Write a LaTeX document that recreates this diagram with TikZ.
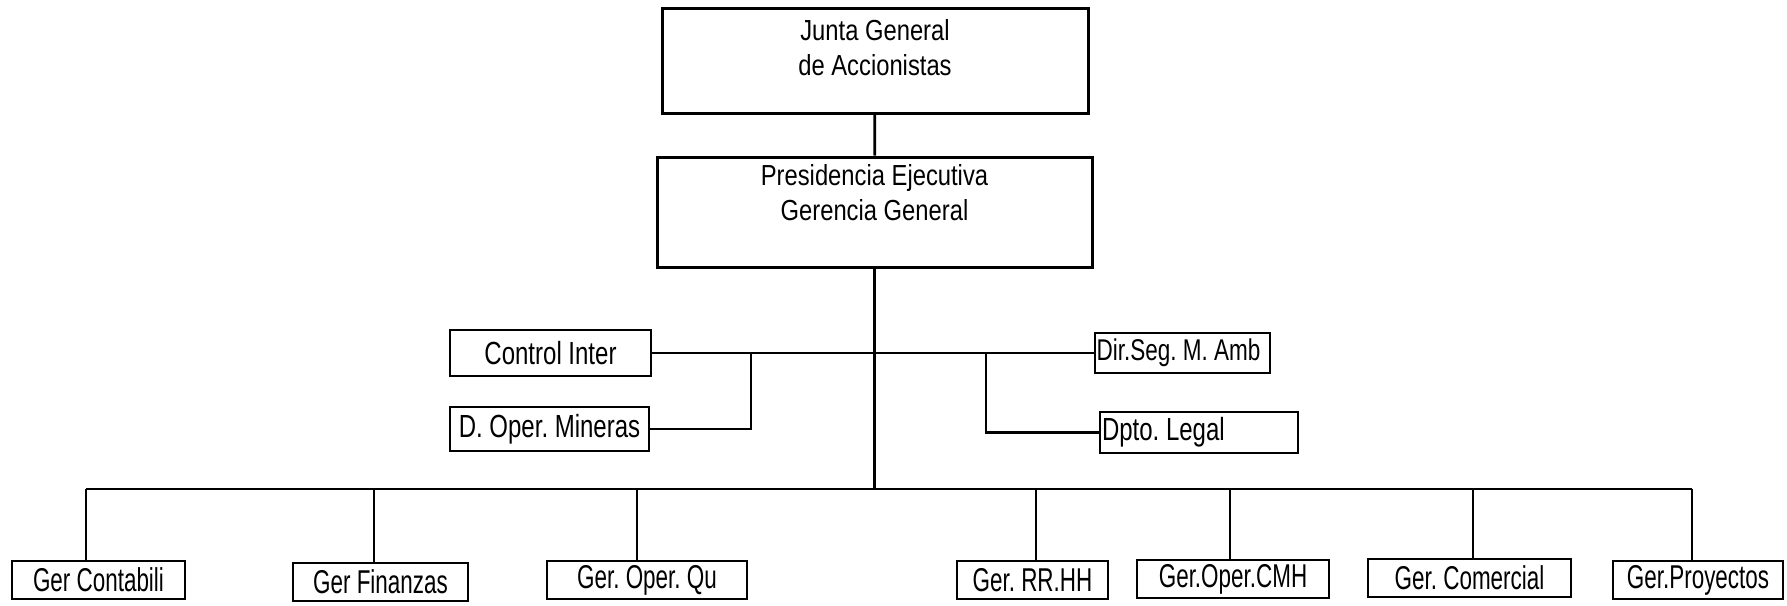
\documentclass[tikz,border=0pt]{standalone}
\usepackage{fontspec}
\setmainfont{Liberation Sans}
\newfontfamily\orgtopfont[FakeStretch=0.82]{Liberation Sans}
\newfontfamily\orgmidfont[FakeStretch=0.75]{Liberation Sans}
\newfontfamily\orggerfont[FakeStretch=0.68]{Liberation Sans}
\frenchspacing
\usetikzlibrary{positioning, calc}

\begin{document}
\begin{tikzpicture}[
      x=0.5pt, y=-0.5pt,
      topbox/.style={rectangle, draw=black, line width=1.5pt, inner sep=0pt, font=\orgtopfont\fontsize{14.5}{17.5}\selectfont},
      midbox/.style={rectangle, draw=black, line width=1.2pt, inner sep=0pt, font=\orgmidfont\fontsize{16}{18}\selectfont},
      gerbox/.style={rectangle, draw=black, line width=1.2pt, inner sep=0pt, minimum height=19pt, font=\orggerfont\fontsize{16.5}{18}\selectfont},
      link/.style={line width=1.4pt, black}
    ]
      \useasboundingbox (0,0) rectangle (1787,605);

      % cabecera
      \node[topbox, minimum width=213pt, minimum height=52.5pt] (junta) at (875,60.5)
        {\begin{tabular}{@{}c@{}}Junta General\\de Accionistas\\[10pt]\end{tabular}};
      \node[topbox, minimum width=217.5pt, minimum height=55pt] (pres) at (874.5,212)
        {\begin{tabular}{@{}c@{}}Presidencia Ejecutiva\\Gerencia General\\[16pt]\end{tabular}};

      % staff
      \node[midbox, minimum width=100.5pt, minimum height=23pt] (ctrl) at (550.5,353) {Control Inter};
      \node[midbox, minimum width=99.5pt, minimum height=22pt] (dopm) at (549.5,429) {D. Oper. Mineras};
      \node[midbox, minimum width=87.5pt, minimum height=20pt] (dseg) at (1182.5,353) {\fontsize{15}{18}\selectfont\makebox[86pt][l]{Dir.Seg. M. Amb}};
      \node[midbox, minimum width=99pt, minimum height=20.5pt] (legal) at (1199,432.5) {\makebox[97pt][l]{Dpto. Legal}};

      % gerencias
      \node[gerbox, minimum width=86.5pt] (gcont) at (98.5,580) {Ger Contabili};
      \node[gerbox, minimum width=87.5pt] (gfin) at (380.5,582) {Ger Finanzas};
      \node[gerbox, minimum width=100pt] (goqu) at (647,580) {Ger. Oper. Qu};
      \node[gerbox, minimum width=75.5pt] (grrhh) at (1032.5,580) {Ger. RR.HH};
      \node[gerbox, minimum width=96pt] (gcmh) at (1233,579) {Ger.Oper.CMH};
      \node[gerbox, minimum width=101.5pt] (gcom) at (1469.5,578) {Ger. Comercial};
      \node[gerbox, minimum width=85pt] (gproy) at (1698,580) {Ger.Proyectos};

      \coordinate (ljoin) at (751,353);
      \coordinate (rjoin) at (986,353);
      \foreach \n/\x in {gcont/86, gfin/374, goqu/637, grrhh/1036, gcmh/1230, gcom/1473, gproy/1692}
        \coordinate (d\n) at (\x,489);

      \draw[link] (junta) -- (pres);
      \draw[link] (pres) -- (pres.south |- dgcont);
      \draw[link] (ctrl) -- (dseg);
      \draw[link] (ljoin) |- (dopm);
      \draw[link] (rjoin) |- (legal);
      \draw[link] (dgcont) -- (dgproy);
      \foreach \n in {gcont, gfin, goqu, grrhh, gcmh, gcom, gproy}
        \draw[link, line width=1.1pt] (d\n) -- (d\n |- \n.north);
    \end{tikzpicture}
\end{document}
